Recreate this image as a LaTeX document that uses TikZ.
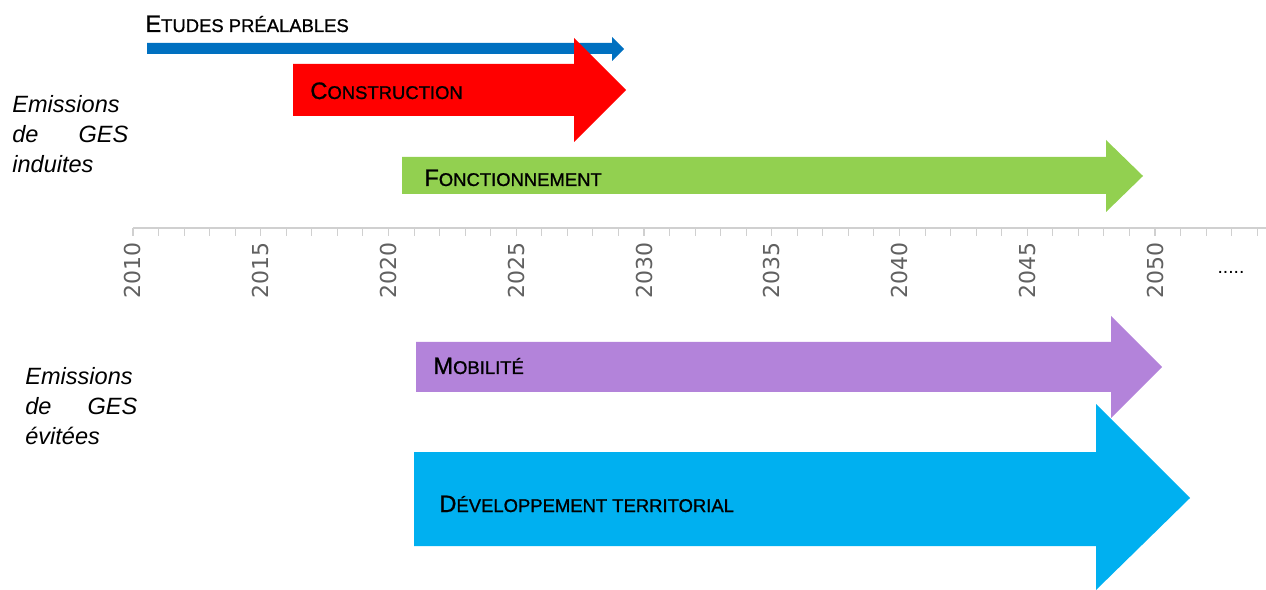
\documentclass[tikz,border=0pt]{standalone}
\usepackage{fontspec}
\setmainfont{Liberation Sans}
\newfontfamily\yearfont{DejaVu Sans}
\newfontfamily\phasefont[FakeBold=1]{Liberation Sans}
\usepackage{tikz}
\usetikzlibrary{positioning}
\definecolor{EtudeBlue}{HTML}{0070C0}
\definecolor{BuildRed}{HTML}{FF0000}
\definecolor{RunGreen}{HTML}{92D050}
\definecolor{MobPurple}{HTML}{B383DA}
\definecolor{TerrCyan}{HTML}{00B0F0}
\definecolor{AxisGray}{HTML}{D0D0D0}
\definecolor{YearGray}{HTML}{606060}
% big first letter, the rest in smaller capitals
\newcommand\phasename[2]{{\fontsize{13.5}{14}\selectfont #1}{\fontsize{10.5}{12}\selectfont #2}}
\tikzset{
  PH/.style={anchor=base west,inner sep=0pt,text=black,font=\phasefont},
  SD/.style={anchor=base west,inner sep=0pt,align=left,
             font=\fontsize{13.4}{16.8}\selectfont\itshape},
  YR/.style={rotate=90,anchor=east,inner sep=0pt,text=YearGray,
             font=\yearfont\fontsize{12.5}{13}\selectfont},
  tk/.style={AxisGray,line width=0.6pt}
}

\begin{document}
\begin{tikzpicture}[x=0.02cm,y=-0.02cm]
  \useasboundingbox (0,0) rectangle (1266,590);

  % time axis
  \draw[tk] (133,228) -- (1266,228);
  \foreach \k in {0,...,44}
    \draw[tk] ({133+\k*25.55},228) -- ({133+\k*25.55},236);
  \foreach \y in {2010,2015,...,2050}
    \node[YR] (y\y) at ({133+(\y-2010)*25.55},242) {\y};
  \node[inner sep=0pt,font=\fontsize{11}{12}\selectfont] (dots) at (1231,272) {.....};

  % phases with induced emissions
  \fill[EtudeBlue] (147,43) -- (612,43) -- (612,37) -- (624,49)
    -- (612,61) -- (612,54) -- (147,54) -- cycle;
  \fill[BuildRed] (293,64) -- (574,64) -- (574,38) -- (626,90)
    -- (574,142) -- (574,116) -- (293,116) -- cycle;
  \fill[RunGreen] (402,157) -- (1106,157) -- (1106,140) -- (1143,176)
    -- (1106,212) -- (1106,194) -- (402,194) -- cycle;

  % phases with avoided emissions
  \fill[MobPurple] (416,342) -- (1111,342) -- (1111,316) -- (1162,367)
    -- (1111,418) -- (1111,392) -- (416,392) -- cycle;
  \fill[TerrCyan] (414,452) -- (1096,452) -- (1096,404) -- (1190,498)
    -- (1096,590) -- (1096,546) -- (414,546) -- cycle;

  \node[PH] (etudes) at (145,32) {\phasename{E}{TUDES PRÉALABLES}};
  \node[PH] (constr) at (310,99) {\phasename{C}{ONSTRUCTION}};
  \node[PH] (fonct) at (424,186) {\phasename{F}{ONCTIONNEMENT}};
  \node[PH] (mobil) at (433,374) {\phasename{M}{OBILITÉ}};
  \node[PH] (devel) at (439,512) {\phasename{D}{ÉVELOPPEMENT TERRITORIAL}};

  \node[SD,text width=2.32cm] (induites) at (12,113)
    {Emissions\\de\hfill GES\\induites};
  \node[SD,text width=2.24cm] (evitees) at (25,385)
    {Emissions\\de\hfill GES\\évitées};
\end{tikzpicture}
\end{document}
